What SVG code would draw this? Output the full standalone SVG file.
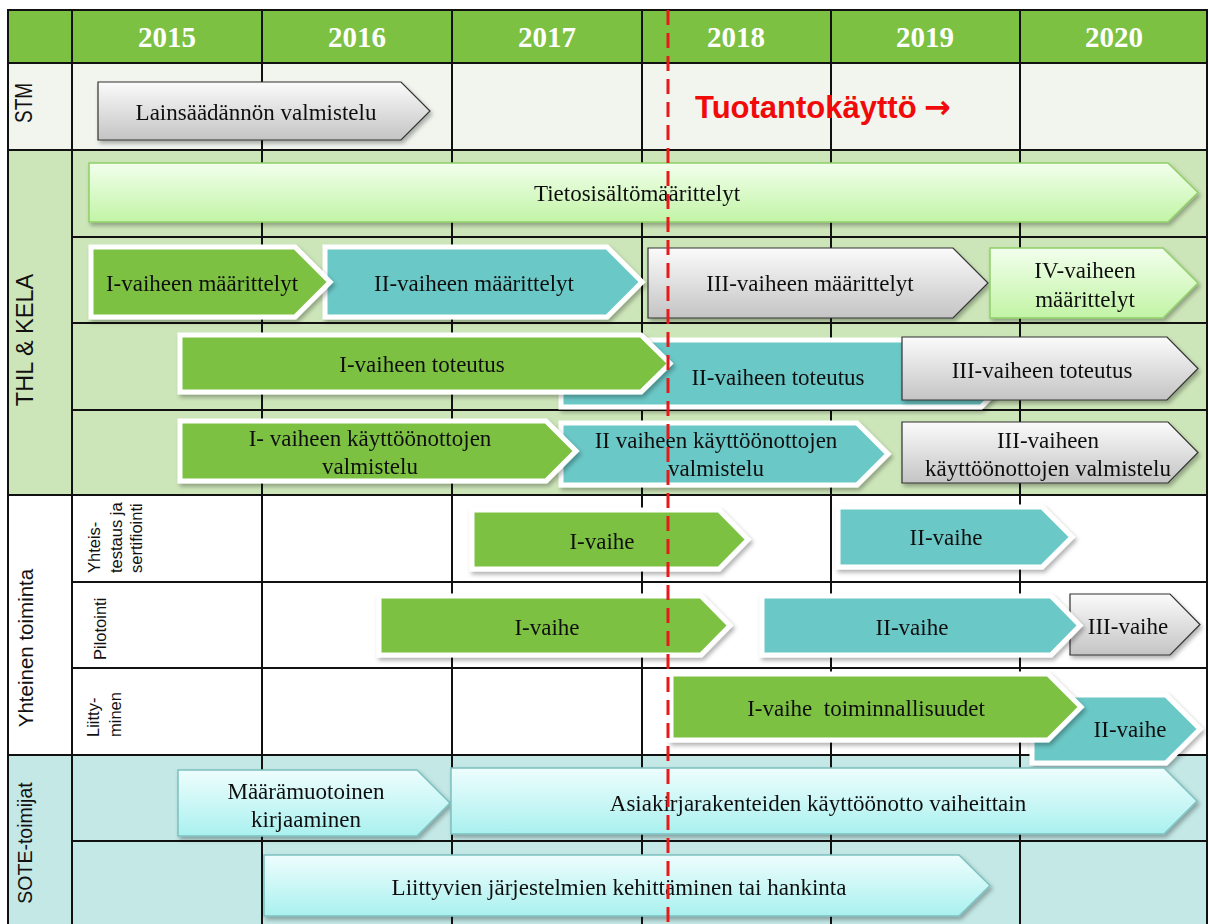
<svg xmlns="http://www.w3.org/2000/svg" width="1209" height="924" viewBox="0 0 1209 924">
<style>
.lbl{font-family:"Liberation Serif","Times New Roman",serif;font-size:23px;fill:#111;text-anchor:middle;white-space:pre}
.yr{font-family:"Liberation Serif","Times New Roman",serif;font-size:29px;font-weight:bold;fill:#fff;text-anchor:middle}
.side{font-family:"Liberation Sans",Arial,sans-serif;fill:#111;text-anchor:middle}
.sub{font-family:"Liberation Sans",Arial,sans-serif;font-size:16.5px;fill:#111}
.grid{stroke:#111;stroke-width:2;fill:none}
.green{fill:#7cc142;stroke:#fff;stroke-width:5;stroke-linejoin:miter}
.teal{fill:#6bc8c7;stroke:#fff;stroke-width:5;stroke-linejoin:miter}
.gray{fill:url(#gGray);stroke:#333;stroke-width:1.2}
.lgreen{fill:url(#gLGreen);stroke:#8fd068;stroke-width:1.5}
.cyan{fill:url(#gCyan);stroke:#7cc0c0;stroke-width:1.5}
</style>
<defs>
<linearGradient id="gGray" x1="0" y1="0" x2="0" y2="1"><stop offset="0" stop-color="#fbfbfb"/><stop offset="1" stop-color="#c4c4c4"/></linearGradient>
<linearGradient id="gLGreen" x1="0" y1="0" x2="0" y2="1"><stop offset="0" stop-color="#f2ffec"/><stop offset="1" stop-color="#c2f4a6"/></linearGradient>
<linearGradient id="gCyan" x1="0" y1="0" x2="0" y2="1"><stop offset="0" stop-color="#eefdfd"/><stop offset="1" stop-color="#a9f1ef"/></linearGradient>
<filter id="sh" x="-5%" y="-20%" width="110%" height="150%"><feDropShadow dx="2" dy="3" stdDeviation="2" flood-color="#000" flood-opacity="0.3"/></filter>
</defs>

<g id="backgrounds">
<rect x="8" y="10" width="1199" height="53" fill="#7cc142"/>
<rect x="8" y="63" width="1199" height="87" fill="#f1f5ee"/>
<rect x="8" y="150" width="1199" height="345" fill="#cde6b9"/>
<rect x="8" y="495" width="1199" height="260" fill="#ffffff"/>
<rect x="8" y="755" width="1199" height="169" fill="#c3e8e6"/>
</g>

<g id="grid" class="grid">
<rect x="8" y="10" width="1199" height="920"/>
<line x1="8" y1="63" x2="1207" y2="63"/>
<line x1="8" y1="150" x2="1207" y2="150"/>
<line x1="72" y1="237" x2="1207" y2="237"/>
<line x1="72" y1="323" x2="1207" y2="323"/>
<line x1="72" y1="410" x2="1207" y2="410"/>
<line x1="8" y1="495" x2="1207" y2="495"/>
<line x1="72" y1="582" x2="1207" y2="582"/>
<line x1="72" y1="668" x2="1207" y2="668"/>
<line x1="8" y1="755" x2="1207" y2="755"/>
<line x1="72" y1="841" x2="1207" y2="841"/>
<line x1="72" y1="10" x2="72" y2="924"/>
<line x1="262" y1="10" x2="262" y2="924"/>
<line x1="452" y1="10" x2="452" y2="924"/>
<line x1="642" y1="10" x2="642" y2="924"/>
<line x1="831" y1="10" x2="831" y2="924"/>
<line x1="1020" y1="10" x2="1020" y2="924"/>
</g>

<g id="headers">
<text class="yr" x="167" y="47">2015</text>
<text class="yr" x="357" y="47">2016</text>
<text class="yr" x="547" y="47">2017</text>
<text class="yr" x="736" y="47">2018</text>
<text class="yr" x="925" y="47">2019</text>
<text class="yr" x="1114" y="47">2020</text>
</g>

<g id="side-labels">
<text class="side" font-size="24" transform="translate(23,103) rotate(-90)" x="0" y="9" textLength="40" lengthAdjust="spacingAndGlyphs">STM</text>
<text class="side" font-size="23.5" transform="translate(24,340) rotate(-90)" x="0" y="8.5">THL &amp; KELA</text>
<text class="side" font-size="20.5" transform="translate(25,648) rotate(-90)" x="0" y="7.5">Yhteinen toiminta</text>
<text class="side" font-size="19.5" transform="translate(25,843) rotate(-90)" x="0" y="7">SOTE-toimijat</text>
<text class="sub" transform="translate(100,573) rotate(-90)"><tspan x="0" y="0">Yhteis-</tspan><tspan x="0" y="21.5">testaus ja</tspan><tspan x="0" y="42">sertifiointi</tspan></text>
<text class="sub" font-size="17" transform="translate(106,660) rotate(-90)">Pilotointi</text>
<text class="sub" transform="translate(99,737) rotate(-90)"><tspan x="0" y="0">Liitty-</tspan><tspan x="0" y="22">minen</tspan></text>
</g>

<g id="n-lainsaadanto" filter="url(#sh)"><path class="gray" d="M98,82 H401 L430,111 L401,140 H98 Z"/><text class="lbl" x="256" y="120">Lainsäädännön valmistelu</text></g>

<g id="n-tietosisalto" filter="url(#sh)"><path class="lgreen" d="M89,163 H1168 L1198,192.5 L1168,222 H89 Z"/><text class="lbl" x="637" y="201">Tietosisältömäärittelyt</text></g>

<g id="n-iii-maarittelyt" filter="url(#sh)"><path class="gray" d="M648,248 H953 L988,283 L953,318 H648 Z"/><text class="lbl" x="810" y="291">III-vaiheen määrittelyt</text></g>
<g id="n-iv-maarittelyt" filter="url(#sh)"><path class="lgreen" d="M990,248 H1163 L1198,283 L1163,318 H990 Z"/><text class="lbl" x="1085" y="278">IV-vaiheen</text><text class="lbl" x="1085" y="307">määrittelyt</text></g>
<g id="n-ii-maarittelyt" filter="url(#sh)"><path class="teal" d="M325,247 H607 L642,282 L607,317 H325 Z"/><text class="lbl" x="474" y="291">II-vaiheen määrittelyt</text></g>
<g id="n-i-maarittelyt" filter="url(#sh)"><path class="green" d="M91,247 H295 L330,282 L295,317 H91 Z"/><text class="lbl" x="202" y="291">I-vaiheen määrittelyt</text></g>

<g id="n-ii-toteutus" filter="url(#sh)"><path class="teal" d="M561,340 H981 L1014,373.5 L981,407 H561 Z"/><text class="lbl" x="778" y="385">II-vaiheen toteutus</text></g>
<g id="n-iii-toteutus" filter="url(#sh)"><path class="gray" d="M902,337 H1167 L1198,368.5 L1167,400 H902 Z"/><text class="lbl" x="1042" y="378">III-vaiheen toteutus</text></g>
<g id="n-i-toteutus" filter="url(#sh)"><path class="green" d="M180,335 H641 L670,363.5 L641,392 H180 Z"/><text class="lbl" x="422" y="372">I-vaiheen toteutus</text></g>

<g id="n-ii-kayttoonotto" filter="url(#sh)"><path class="teal" d="M561,423 H857 L888,454 L857,485 H561 Z"/><text class="lbl" x="716" y="448">II vaiheen käyttöönottojen</text><text class="lbl" x="716" y="476">valmistelu</text></g>
<g id="n-i-kayttoonotto" filter="url(#sh)"><path class="green" d="M180,421 H546 L576,451 L546,481 H180 Z"/><text class="lbl" x="370" y="446">I- vaiheen käyttöönottojen</text><text class="lbl" x="370" y="474">valmistelu</text></g>
<g id="n-iii-kayttoonotto" filter="url(#sh)"><path class="gray" d="M902,422 H1168 L1198,452.5 L1168,483 H902 Z"/><text class="lbl" x="1048" y="448">III-vaiheen</text><text class="lbl" x="1048" y="476">käyttöönottojen valmistelu</text></g>

<g id="n-yhteistestaus-i" filter="url(#sh)"><path class="green" d="M472,510 H719 L748,539.5 L719,569 H472 Z"/><text class="lbl" x="602" y="549">I-vaihe</text></g>
<g id="n-yhteistestaus-ii" filter="url(#sh)"><path class="teal" d="M838,507 H1042 L1072,537 L1042,567 H838 Z"/><text class="lbl" x="946" y="545">II-vaihe</text></g>

<g id="n-pilot-i" filter="url(#sh)"><path class="green" d="M379,596 H701 L730,625.5 L701,655 H379 Z"/><text class="lbl" x="547" y="635">I-vaihe</text></g>
<g id="n-pilot-iii" filter="url(#sh)"><path class="gray" d="M1070,594 H1170 L1200,624.5 L1170,655 H1070 Z"/><text class="lbl" x="1128" y="634">III-vaihe</text></g>
<g id="n-pilot-ii" filter="url(#sh)"><path class="teal" d="M762,596 H1051 L1080,625.5 L1051,655 H762 Z"/><text class="lbl" x="912" y="635">II-vaihe</text></g>

<g id="n-liitty-ii" filter="url(#sh)"><path class="teal" d="M1032,695 H1166 L1200,729 L1166,763 H1032 Z"/><text class="lbl" x="1130" y="737">II-vaihe</text></g>
<g id="n-liitty-i" filter="url(#sh)"><path class="green" d="M671,674 H1048 L1081,707 L1048,740 H671 Z"/><text class="lbl" x="866" y="716">I-vaihe  toiminnallisuudet</text></g>

<g id="n-maaramuotoinen" filter="url(#sh)"><path class="cyan" d="M178,770 H417 L450,803 L417,836 H178 Z"/><text class="lbl" x="306" y="799">Määrämuotoinen</text><text class="lbl" x="306" y="827">kirjaaminen</text></g>
<g id="n-asiakirja" filter="url(#sh)"><path class="cyan" d="M451,768 H1164 L1197,801 L1164,834 H451 Z"/><text class="lbl" x="818" y="811">Asiakirjarakenteiden käyttöönotto vaiheittain</text></g>
<g id="n-liittyvat" filter="url(#sh)"><path class="cyan" d="M264,855 H959 L990,885.5 L959,916 H264 Z"/><text class="lbl" x="619" y="895">Liittyvien järjestelmien kehittäminen tai hankinta</text></g>

<g id="connectors">
<line x1="668" y1="10" x2="668" y2="924" stroke="#e8191a" stroke-width="3" stroke-dasharray="15 8"/>
</g>

<g id="n-tuotanto">
<text y="118" font-family="'Liberation Sans',Arial,sans-serif" font-size="31" font-weight="bold" fill="#f00a0a"><tspan x="695">Tuotantokäyttö</tspan><tspan x="924" font-family="'DejaVu Sans',sans-serif" font-size="32">→</tspan></text>
</g>
</svg>
